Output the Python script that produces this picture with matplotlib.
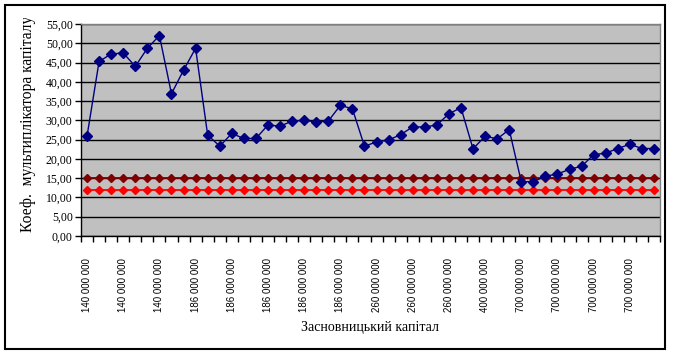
import matplotlib
matplotlib.use("Agg")
import matplotlib.pyplot as plt
from matplotlib.patches import Rectangle
from matplotlib.transforms import Bbox

# ---- data ----
categories = (["140 000 000"] * 9 + ["186 000 000"] * 15 + ["260 000 000"] * 9
              + ["400 000 000"] * 3 + ["700 000 000"] * 12)
multiplier = [25.9, 45.3, 47.2, 47.5, 44.0, 48.7, 52.0, 36.9, 43.0, 48.7,
              26.2, 23.3, 26.6, 25.3, 25.3, 28.8, 28.5, 29.8, 30.0, 29.6,
              29.8, 33.9, 33.0, 23.3, 24.4, 24.9, 26.3, 28.3, 28.3, 28.8,
              31.7, 33.3, 22.6, 25.9, 25.2, 27.6, 14.1, 14.1, 15.5, 16.1,
              17.3, 18.1, 21.1, 21.5, 22.7, 23.8, 22.7, 22.7]
level_15 = [15.0, 15.0, 15.0, 15.0, 15.0, 15.0, 15.0, 15.0, 15.0, 15.0, 15.0, 15.0,
            15.0, 15.0, 15.0, 15.0, 15.0, 15.0, 15.0, 15.0, 15.0, 15.0, 15.0, 15.0,
            15.0, 15.0, 15.0, 15.0, 15.0, 15.0, 15.0, 15.0, 15.0, 15.0, 15.0, 15.0,
            15.0, 15.0, 15.0, 15.0, 15.0, 15.0, 15.0, 15.0, 15.0, 15.0, 15.0, 15.0]
level_12 = [12.0, 12.0, 12.0, 12.0, 12.0, 12.0, 12.0, 12.0, 12.0, 12.0, 12.0, 12.0,
            12.0, 12.0, 12.0, 12.0, 12.0, 12.0, 12.0, 12.0, 12.0, 12.0, 12.0, 12.0,
            12.0, 12.0, 12.0, 12.0, 12.0, 12.0, 12.0, 12.0, 12.0, 12.0, 12.0, 12.0,
            12.0, 12.0, 12.0, 12.0, 12.0, 12.0, 12.0, 12.0, 12.0, 12.0, 12.0, 12.0]
y_ticks = [0, 5, 10, 15, 20, 25, 30, 35, 40, 45, 50, 55]
y_tick_labels = ["0,00", "5,00", "10,00", "15,00", "20,00", "25,00",
                 "30,00", "35,00", "40,00", "45,00", "50,00", "55,00"]
x_title = "Засновницький капітал"
y_title = "Коеф.  мультиплікатора капіталу"

W, H = 673, 355
fig = plt.figure(figsize=(W / 100, H / 100), dpi=100)
fig.patch.set_facecolor("white")

# outer chart border
fig.patches.append(Rectangle((5 / W, 1 - 349 / H), 660 / W, 344 / H,
                             transform=fig.transFigure, fill=False,
                             edgecolor="black", linewidth=1.5))

ax = fig.add_axes([81 / W, 1 - 236 / H, 579 / W, 212 / H])
ax.set_facecolor("#C0C0C0")

n = len(categories)
x = list(range(n))

ax.plot(x, level_15, color="#800000", linewidth=1.3, marker="D",
        markersize=4.3, zorder=3)
ax.plot(x, level_12, color="#FF0000", linewidth=1.3, marker="D",
        markersize=4.3, zorder=3)
ax.plot(x, multiplier, color="#000080", linewidth=1.0, marker="D",
        markersize=4.8, zorder=4)

ax.set_xlim(-0.5, n - 0.5)
ax.set_ylim(0, 55)

ax.set_yticks(y_ticks)
ax.set_yticklabels(y_tick_labels, fontsize=8.5, family="Liberation Serif")
ax.yaxis.grid(True, color="black", linewidth=1.0)
ax.set_axisbelow(True)
ax.tick_params(axis="y", direction="out", length=4, width=1, pad=2)

major = x[::3]
ax.set_xticks(major)
ax.set_xticklabels([categories[i] for i in major], rotation=90,
                   fontsize=7, family="Liberation Sans")
ax.set_xticks([i - 0.5 for i in range(n + 1)], minor=True)
ax.tick_params(axis="x", which="major", length=0, pad=16)
ax.tick_params(axis="x", which="minor", direction="out", length=4, width=1)

for s in ("left", "bottom"):
    ax.spines[s].set_color("black")
    ax.spines[s].set_linewidth(1.0)
for s in ("top", "right"):
    ax.spines[s].set_color("#808080")
    ax.spines[s].set_linewidth(1.0)

fig.text(370 / W, 1 - 327 / H, x_title, ha="center", va="center",
         fontsize=10, family="Liberation Serif")
yt = fig.text(28 / W, 1 - 124 / H, y_title, ha="center", va="center",
              rotation=90, fontsize=11.2, family="Liberation Serif")
yt.set_clip_box(Bbox.from_extents(0, 0, W, H - 18))
yt.set_clip_on(True)

fig.savefig("out.png", dpi=100)
